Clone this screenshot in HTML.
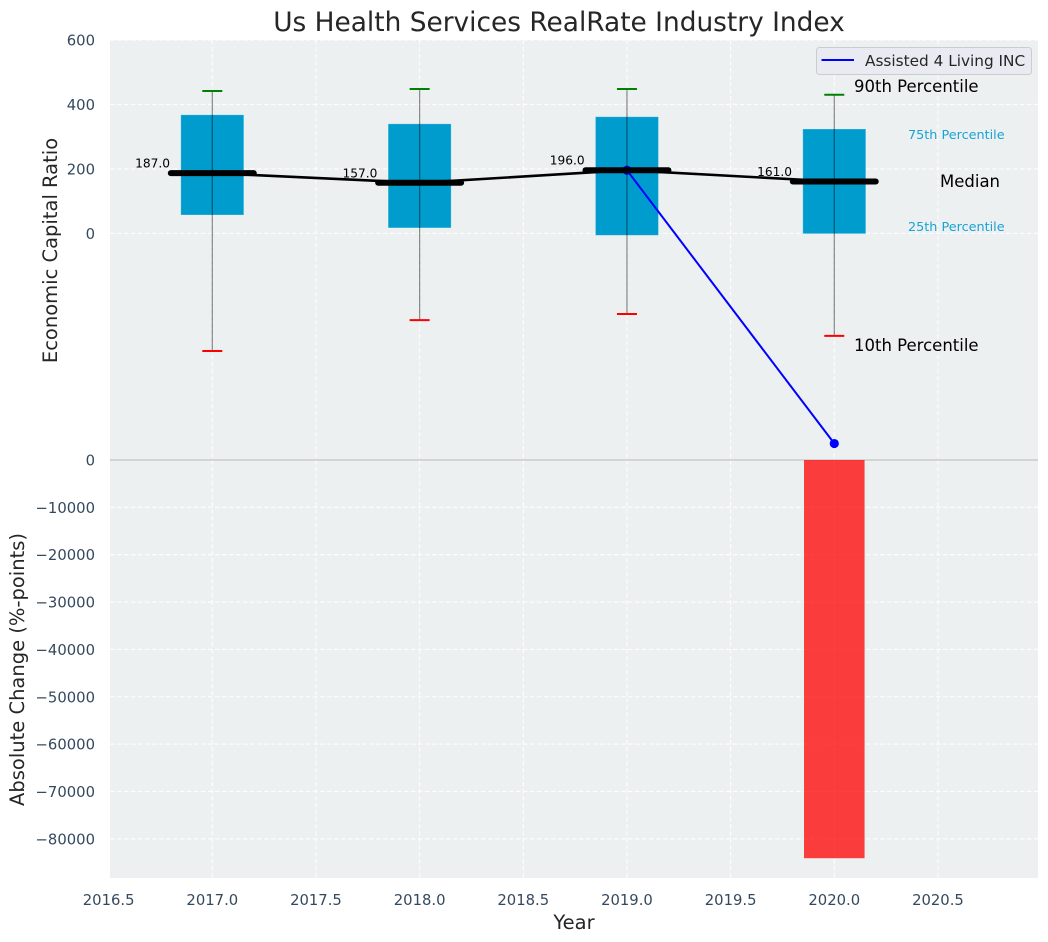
<!DOCTYPE html>
<html>
<head>
<meta charset="utf-8">
<title>Us Health Services RealRate Industry Index</title>
<style>
html,body{margin:0;padding:0;background:#fff;width:1048px;height:942px;overflow:hidden}
svg{display:block;font-family:"DejaVu Sans","Liberation Sans",sans-serif}
</style>
</head>
<body>
<svg id="chart" xmlns="http://www.w3.org/2000/svg" width="1048" height="942" viewBox="0 0 1048 942">
  <rect x="110" y="40" width="928" height="838" fill="#ecf0f1"/>
  <g id="grid"></g>
  <g id="marks"></g>
  <g id="ticks"></g>
  <text x="559" y="31" text-anchor="middle" font-size="26.4" fill="#262626">Us Health Services RealRate Industry Index</text>
  <text x="574" y="929" text-anchor="middle" font-size="19.5" fill="#262626">Year</text>
  <text transform="translate(57,250.5) rotate(-90)" text-anchor="middle" font-size="19.5" fill="#262626">Economic Capital Ratio</text>
  <text transform="translate(24,669.5) rotate(-90)" text-anchor="middle" font-size="19.5" fill="#262626">Absolute Change (%-points)</text>
  <g font-size="16.5" fill="#000">
    <text x="854" y="92">90th Percentile</text>
    <text x="940" y="187">Median</text>
    <text x="854" y="351">10th Percentile</text>
    <text x="908" y="139" font-size="12.8" fill="#1aa3d4">75th Percentile</text>
    <text x="908" y="231" font-size="12.8" fill="#1aa3d4">25th Percentile</text>
  </g>
  <g>
    <rect x="816.5" y="47.5" width="215" height="27" rx="3" fill="#eaeaf2" fill-opacity="0.9" stroke="#cccccc" stroke-width="1"/>
    <line x1="821.5" y1="60" x2="854" y2="60" stroke="#0000ff" stroke-width="2"/>
    <text x="865" y="66" font-size="15.3" fill="#262626">Assisted 4 Living INC</text>
  </g>
</svg>
<script>
// Chart data
const years = [2017, 2018, 2019, 2020];
const p90 = [442, 448, 448, 430];
const p75 = [368, 340, 362, 324];
const medians = [187, 157, 196, 161];
const p25 = [57, 17, -6, -1];
const p10 = [-365, -269, -250, -318];
const companyYears = [2019, 2020];
const companyValues = [196, -652];
const changeYears = [2020];
const changeValues = [-84100];
const xTicks = [2016.5, 2017, 2017.5, 2018, 2018.5, 2019, 2019.5, 2020, 2020.5];
const topYTicks = [0, 200, 400, 600];
const bottomYTicks = [0, -10000, -20000, -30000, -40000, -50000, -60000, -70000, -80000];

// Axis functions
function xScale(v) { return 212.3 + (v - 2017) * 207.33; }
function yTop(v) { return 233.4 - v * 0.3223; }
function yBottom(v) { return 460 - v * 0.004735; }

const NS = 'http://www.w3.org/2000/svg';
const gridG = document.getElementById('grid');
const marksG = document.getElementById('marks');
const ticksG = document.getElementById('ticks');
function mk(tag, props, parent) {
  const n = document.createElementNS(NS, tag);
  for (const k in props) n.setAttribute(k, props[k]);
  parent.appendChild(n);
  return n;
}
const gridStyle = { stroke: '#ffffff', 'stroke-width': 1.1, 'stroke-dasharray': '4.5 2.5', opacity: 0.9 };

// Grid and tick labels
xTicks.forEach(function (t) {
  const x = xScale(t);
  const line = mk('line', Object.assign({ x1: x, x2: x, y1: 40, y2: 878 }, gridStyle), gridG);
  
  
  const label = mk('text', { x: x, y: 905, 'text-anchor': 'middle', 'font-size': 14.8, fill: '#34495e' }, ticksG);
  label.textContent = t.toFixed(1);
  
  
});
topYTicks.forEach(function (t) {
  const y = yTop(t);
  const line = mk('line', Object.assign({ x1: 110, x2: 1038, y1: y, y2: y }, gridStyle), gridG);
  
  
  const label = mk('text', { x: 95, y: y + 5.5, 'text-anchor': 'end', 'font-size': 14.8, fill: '#34495e' }, ticksG);
  label.textContent = String(t);
  
  
});
bottomYTicks.forEach(function (t) {
  const y = yBottom(t);
  if (t !== 0) {
    const line = mk('line', Object.assign({ x1: 110, x2: 1038, y1: y, y2: y }, gridStyle), gridG);
    
    
  }
  const label = mk('text', { x: 95, y: y + 5.5, 'text-anchor': 'end', 'font-size': 14.8, fill: '#34495e' }, ticksG);
  label.textContent = String(t).replace('-', '\u2212');
  
  
});

// Panel separator
const sep = mk('line', { x1: 110, x2: 1038, y1: 460, y2: 460, stroke: '#c4c4c4', 'stroke-width': 1.2 }, gridG);



// Change bars
changeYears.forEach(function (yr, i) {
  const x0 = xScale(yr - 0.146);
  const x1 = xScale(yr + 0.146);
  const y0 = yBottom(0);
  const y1 = yBottom(changeValues[i]);
  const bar = mk('rect', { x: x0, y: y0, width: x1 - x0, height: y1 - y0, fill: '#ff0000', 'fill-opacity': 0.75 }, marksG);
  
  
});

// Percentile boxes
years.forEach(function (yr, i) {
  const x0 = xScale(yr - 0.152);
  const x1 = xScale(yr + 0.152);
  const top = yTop(p75[i]);
  const bottom = yTop(p25[i]);
  const box = mk('rect', { x: x0, y: top, width: x1 - x0, height: bottom - top, fill: '#009ccd', stroke: '#ffffff', 'stroke-opacity': 0.35, 'stroke-width': 0.8 }, marksG);
  
  
});

// Median connecting line
const medianPath = mk('polyline', {
  points: years.map(function (yr, i) { return xScale(yr) + ',' + yTop(medians[i]); }).join(' '),
  fill: 'none', stroke: '#000000', 'stroke-width': 2.6
}, marksG);



// Company series
const companyLine = mk('polyline', {
  points: companyYears.map(function (yr, i) { return xScale(yr) + ',' + yTop(companyValues[i]); }).join(' '),
  fill: 'none', stroke: '#0000ff', 'stroke-width': 2
}, marksG);


companyYears.forEach(function (yr, i) {
  const dot = mk('circle', { cx: xScale(yr), cy: yTop(companyValues[i]), r: 4.6, fill: '#0000ff' }, marksG);
  
  
});

// Medians, whiskers, caps, value labels
years.forEach(function (yr, i) {
  const cx = xScale(yr);
  const med = mk('line', { x1: xScale(yr - 0.2), x2: xScale(yr + 0.2), y1: yTop(medians[i]), y2: yTop(medians[i]), stroke: '#000000', 'stroke-width': 6, 'stroke-linecap': 'round' }, marksG);
  
  
  const whisker = mk('line', { x1: cx, x2: cx, y1: yTop(p90[i]), y2: yTop(p10[i]), stroke: '#000000', 'stroke-opacity': 0.45, 'stroke-width': 1.2 }, marksG);
  
  
  const capHigh = mk('line', { x1: cx - 10, x2: cx + 10, y1: yTop(p90[i]), y2: yTop(p90[i]), stroke: '#008000', 'stroke-width': 2 }, marksG);
  
  
  const capLow = mk('line', { x1: cx - 10, x2: cx + 10, y1: yTop(p10[i]), y2: yTop(p10[i]), stroke: '#ff0000', 'stroke-width': 2 }, marksG);
  
  
  const val = mk('text', { x: xScale(yr - 0.204), y: yTop(medians[i]) - 5.5, 'text-anchor': 'end', 'font-size': 12.2, fill: '#000000' }, marksG);
  val.textContent = medians[i].toFixed(1);
  
  
});
</script>
</body>
</html>
